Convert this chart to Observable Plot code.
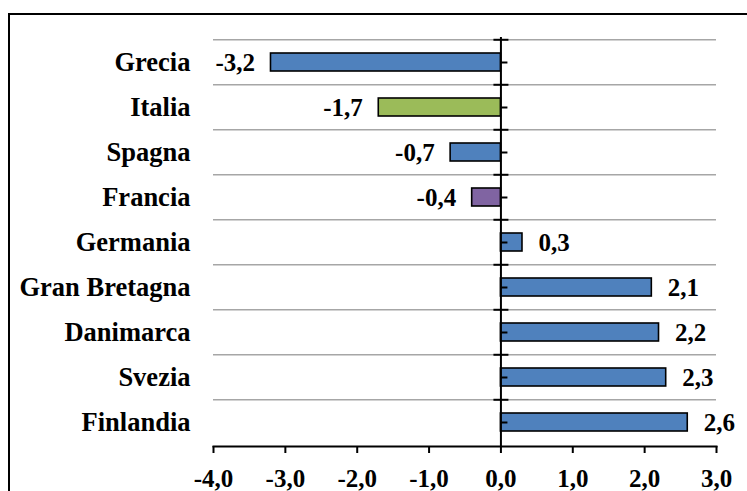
<!DOCTYPE html>
<html>
<head>
<meta charset="utf-8">
<script src="https://cdn.jsdelivr.net/npm/d3@7"></script>
<script src="https://cdn.jsdelivr.net/npm/@observablehq/plot@0.6"></script>
<style>
  html, body { margin: 0; padding: 0; background: #fff; overflow: hidden; }
  #wrap { position: relative; width: 747px; height: 491px; overflow: hidden; }
  #border { position: absolute; left: 8px; top: 13px; width: 900px; height: 900px;
            border: 2px solid #000; pointer-events: none; }
  #chart { position: absolute; left: 0; top: 0; }
</style>
</head>
<body>
<div id="wrap"><div id="chart"></div><div id="border"></div></div>
<script>
const countries = ["Grecia", "Italia", "Spagna", "Francia", "Germania", "Gran Bretagna", "Danimarca", "Svezia", "Finlandia"];
const values = [-3.2, -1.7, -0.7, -0.4, 0.3, 2.1, 2.2, 2.3, 2.6];
const xTicks = [-4, -3, -2, -1, 0, 1, 2, 3];

const data = countries.map((c, i) => ({country: c, value: values[i]}));

const W = 747, H = 491;
const mTop = 37, mBottom = 45, mLeft = 213, mRight = 31;
const step = (H - mTop - mBottom) / countries.length;

const BLUE = "#4F81BD", GREEN = "#9BBB59", PURPLE = "#8064A2";
const fillOf = d => d.country === "Italia" ? GREEN : d.country === "Francia" ? PURPLE : BLUE;
const fmt = v => v.toFixed(1).replace(".", ",");
const FONT = "'Liberation Serif', 'Times New Roman', 'DejaVu Serif', serif";

const crossTick = {draw(ctx, size) { const h = Math.sqrt(size / Math.PI); ctx.moveTo(-h, 0); ctx.lineTo(h, 0); }};
const rightTick = {draw(ctx, size) { const h = Math.sqrt(size / Math.PI); ctx.moveTo(0, 0); ctx.lineTo(h, 0); }};

const chart = Plot.plot({
  width: W, height: H,
  marginTop: mTop, marginBottom: mBottom, marginLeft: mLeft, marginRight: mRight,
  style: {fontFamily: FONT, fontWeight: "bold", fontSize: "25px", color: "#000", background: "transparent"},
  x: {domain: [xTicks[0], xTicks[xTicks.length - 1]]},
  y: {domain: countries, paddingInner: 0.6, paddingOuter: 0.3},
  marks: [
    Plot.ruleY(data, {y: "country", dy: -step / 2, stroke: "#a6a6a6", strokeWidth: 1.6}),
    Plot.barX(data, {x: "value", y: "country", fill: fillOf, stroke: "#000", strokeWidth: 1.6}),
    Plot.ruleX([0], {stroke: "#000", strokeWidth: 2}),
    Plot.dot(data, {x: () => 0, y: "country", dy: -step / 2, symbol: crossTick, r: 7.5, fill: "none", stroke: "#000", strokeWidth: 2}),
    Plot.dot(data, {x: () => 0, y: "country", symbol: rightTick, r: 6.5, fill: "none", stroke: "#000", strokeWidth: 2}),
    Plot.frame({anchor: "bottom", stroke: "#000", strokeWidth: 2}),
    Plot.axisX({ticks: xTicks, tickSize: 7, tickPadding: 16, tickFormat: fmt, strokeWidth: 2, label: null}),
    Plot.axisY({tickSize: 0, tickPadding: 23, label: null, fontSize: 26.5}),
    Plot.text(data.filter(d => d.value < 0), {x: "value", y: "country", text: d => fmt(d.value), textAnchor: "end", dx: -16, fill: "#000"}),
    Plot.text(data.filter(d => d.value >= 0), {x: "value", y: "country", text: d => fmt(d.value), textAnchor: "start", dx: 16, fill: "#000"})
  ]
});
document.getElementById("chart").appendChild(chart);
</script>
</body>
</html>
